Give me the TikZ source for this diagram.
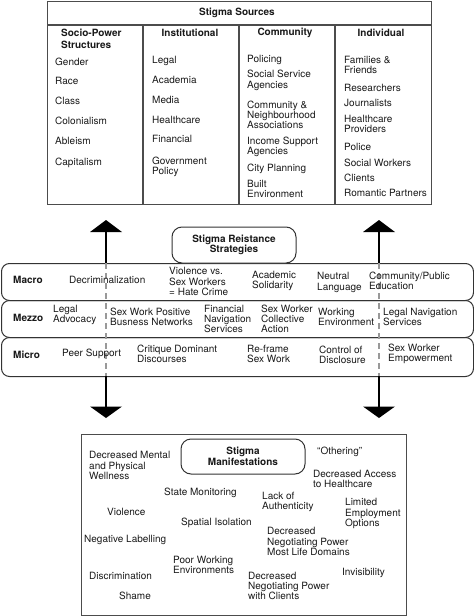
\documentclass[tikz,border=0pt]{standalone}
\usepackage{fontspec}
\setmainfont{TeX Gyre Heros}
\begin{document}
\begin{tikzpicture}[x=1pt,y=-1pt,
  txt/.style={inner sep=0pt, align=left, anchor=west, text=black!90, font=\fontsize{10}{10.3}\selectfont},
  hdr/.style={inner sep=0pt, align=left, text=black!90, font=\fontsize{10}{12}\selectfont\bfseries},
  frame/.style={draw=black!70, line width=1.3pt},
  band/.style={draw=black!80, line width=1pt, rounded corners=8pt, inner sep=0pt},
  rbox/.style={draw=black!80, line width=1pt, rounded corners=10pt, align=center, fill=white, inner sep=0pt, text=black!90, font=\fontsize{10}{10.5}\selectfont\bfseries},
  shaft/.style={line width=2pt},
  dashline/.style={draw=black!40, line width=1.5pt, dash pattern=on 6pt off 4pt},
  head/.style={fill=black}
]
\useasboundingbox (0,0) rectangle (474,616);

% ---------- Stigma Sources table ----------
\node[frame, minimum width=384pt, minimum height=203pt, anchor=north west, inner sep=0pt] (src) at (47,1) {};
\coordinate (tl) at (47,25); \coordinate (tr) at (431,25);
\draw[frame] (tl) -- (tr);
\foreach \xx/\nm in {143/c1,239/c2,335/c3}{
  \coordinate (\nm t) at (\xx,25); \coordinate (\nm b) at (\xx,204);
  \draw[frame] (\nm t) -- (\nm b);
}
\node[hdr, anchor=center] (srctitle) at (237,13) {Stigma Sources};
\node[hdr, anchor=west] (hsocio) at (61,39) {Socio-Power\\Structures};
\node[hdr, anchor=center] (hinst) at (190,33) {Institutional};
\node[hdr, anchor=center] (hcomm) at (285,33) {Community};
\node[hdr, anchor=center] (hind) at (381,33) {Individual};

\node[txt] (s1) at (55,62) {Gender};
\node[txt] (s2) at (55,81) {Race};
\node[txt] (s3) at (55,101) {Class};
\node[txt] (s4) at (55,121) {Colonialism};
\node[txt] (s5) at (55,141) {Ableism};
\node[txt] (s6) at (55,163) {Capitalism};

\node[txt] (i1) at (152,61) {Legal};
\node[txt] (i2) at (152,80) {Academia};
\node[txt] (i3) at (152,100) {Media};
\node[txt] (i4) at (152,120) {Healthcare};
\node[txt] (i5) at (152,139) {Financial};
\node[txt] (i6) at (152,167) {Government\\Policy};

\node[txt] (m1) at (247,60) {Policing};
\node[txt] (m2) at (247,80.5) {Social Service\\Agencies};
\node[txt] (m3) at (247,115) {Community \&\\Neighbourhood\\Associations};
\node[txt] (m4) at (247,147) {Income Support\\Agencies};
\node[txt] (m5) at (247,169) {City Planning};
\node[txt] (m6) at (247,189) {Built\\Environment};

\node[txt] (d1) at (344,65) {Families \&\\Friends};
\node[txt] (d2) at (344,88) {Researchers};
\node[txt] (d3) at (344,103) {Journalists};
\node[txt] (d4) at (344,124) {Healthcare\\Providers};
\node[txt] (d5) at (344,147) {Police};
\node[txt] (d6) at (344,163) {Social Workers};
\node[txt] (d7) at (344,178) {Clients};
\node[txt] (d8) at (344,193) {Romantic Partners};

% ---------- Bands ----------
\node[band, minimum width=472pt, minimum height=37pt, anchor=north west] (macro) at (1,263) {};
\node[band, minimum width=472pt, minimum height=37pt, anchor=north west] (mezzo) at (1,300) {};
\node[band, minimum width=472pt, minimum height=39pt, anchor=north west] (micro) at (1,337) {};

% ---------- Arrows ----------
\foreach \xx/\nm in {106/L,379/R}{
  \coordinate (\nm a) at (\xx,230);
  \coordinate (\nm b) at (\xx,263);
  \coordinate (\nm c) at (\xx,376);
  \coordinate (\nm d) at (\xx,408);
  \draw[shaft] (\nm b) -- (\nm a);
  \draw[dashline] (\nm b) -- (\nm c);
  \draw[shaft] (\nm c) -- (\nm d);
  \fill[head] (\xx-16,232) -- (\xx+16,232) -- (\xx,220) -- cycle;
  \fill[head] (\xx-16,406.5) -- (\xx+16,406.5) -- (\xx,418) -- cycle;
}

\node[rbox, minimum width=124pt, minimum height=36pt] (srs) at (234,245) {Stigma Reistance\\Strategies};

\node[hdr, anchor=west] (lmacro) at (13,280) {Macro};
\node[hdr, anchor=west] (lmezzo) at (13,318) {Mezzo};
\node[hdr, anchor=west] (lmicro) at (13,355) {Micro};

\node[txt] (a1) at (69,280) {Decriminalization};
\node[txt] (a2) at (169,281.5) {Violence vs.\\Sex Workers\\= Hate Crime};
\node[txt] (a3) at (252,281) {Academic\\Solidarity};
\node[txt] (a4) at (317,282.5) {Neutral\\Language};
\node[txt] (a5) at (369,281) {Community/Public\\Education};

\node[txt] (b1) at (53,315) {Legal\\Advocacy};
\node[txt] (b2) at (110,317) {Sex Work Positive\\Busness Networks};
\node[txt] (b3) at (204,319) {Financial\\Navigation\\Services};
\node[txt] (b4) at (261,319) {Sex Worker\\Collective\\Action};
\node[txt] (b5) at (318,317) {Working\\Environment};
\node[txt] (b6) at (383,317) {Legal Navigation\\Services};

\node[txt] (c1) at (62,354) {Peer Support};
\node[txt] (c2) at (137,354) {Critique Dominant\\Discourses};
\node[txt] (c3) at (247,354) {Re-frame\\Sex Work};
\node[txt] (c4) at (319,354.5) {Control of\\Disclosure};
\node[txt] (c5) at (388,354) {Sex Worker\\Empowerment};

% ---------- Manifestations ----------
\node[frame, minimum width=325pt, minimum height=181pt, anchor=north west, inner sep=0pt] (man) at (81,434) {};
\node[rbox, minimum width=124pt, minimum height=35pt] (smt) at (243,456.5) {Stigma\\Manifestations};

\node[txt] (e1) at (89,465.5) {Decreased Mental\\and Physical\\Wellness};
\node[txt] (e2) at (317,452) {“Othering”};
\node[txt] (e3) at (313,479) {Decreased Access\\to Healthcare};
\node[txt] (e4) at (164,493) {State Monitoring};
\node[txt] (e5) at (262,502) {Lack of\\Authenticity};
\node[txt] (e6) at (345,513.5) {Limited\\Employment\\Options};
\node[txt] (e7) at (107,512) {Violence};
\node[txt] (e8) at (181,523) {Spatial Isolation};
\node[txt] (e9) at (267,541.5) {Decreased\\Negotiating Power\\Most Life Domains};
\node[txt] (e10) at (84,540) {Negative Labelling};
\node[txt] (e11) at (173,565) {Poor Working\\Environments};
\node[txt] (e12) at (89,576) {Discrimination};
\node[txt] (e13) at (342,573) {Invisibility};
\node[txt] (e14) at (248,586) {Decreased\\Negotiating Power\\with Clients};
\node[txt] (e15) at (119,596) {Shame};
\end{tikzpicture}
\end{document}
